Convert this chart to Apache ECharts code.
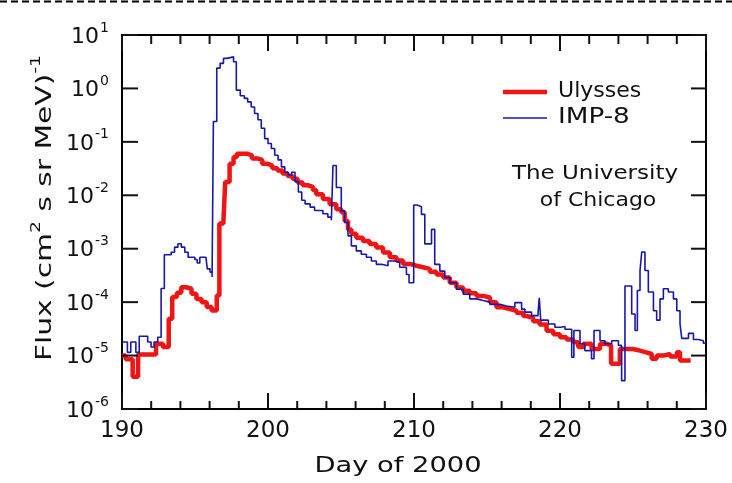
<!DOCTYPE html>
<html>
<head>
<meta charset="utf-8">
<script src="https://cdn.jsdelivr.net/npm/echarts@6/dist/echarts.min.js"></script>
<style>
html,body{margin:0;padding:0;background:#fff;}
#c{width:732px;height:483px;}
</style>
</head>
<body>
<div id="c"></div>
<script>
// ---- data ----
var xTicks = [190, 200, 210, 220, 230];
var xMinorTicks = [192, 194, 196, 198, 202, 204, 206, 208, 212, 214, 216, 218, 222, 224, 226, 228];
var yTickExp = [-6, -5, -4, -3, -2, -1, 0, 1];
var seriesNames = ['Ulysses', 'IMP-8'];

var ulyDays = [190.0,190.25,190.73,191.1,192.33,192.8,193.2,193.44,193.76,194.06,194.4,194.76,195.1,195.45,195.8,196.14,196.49,196.67,196.95,197.07,197.37,197.64,197.87,198.57,198.9,199.26,199.6,199.95,200.3,200.65,200.99,201.34,201.69,202.03,202.38,202.72,203.07,203.3,203.76,204.22,204.68,205.02,205.25,205.48,205.71,206.05,206.5,206.96,207.42,207.88,208.34,208.8,209.25,209.71,210.17,210.62,211.08,211.54,212.0,212.45,212.91,213.37,213.82,214.28,214.74,215.2,215.65,216.11,216.57,217.02,217.48,217.7,218.16,218.6,219.08,219.54,220.0,220.45,220.9,221.25,221.6,222.16,222.74,223.2,223.5,224.1,225.0,225.48,225.9,226.28,226.62,227.08,227.54,228.0,228.22,228.95];
var ulyFlux = [1.0e-5,8.5e-6,4.0e-6,1.05e-5,1.66e-5,1.44e-5,4.9e-5,1.25e-4,1.5e-4,1.9e-4,1.78e-4,1.44e-4,1.15e-4,1.0e-4,8.1e-5,7.0e-5,1.33e-4,2.95e-3,3.4e-3,1.78e-2,3.9e-2,5.2e-2,6.0e-2,5.6e-2,4.9e-2,4.6e-2,3.9e-2,3.6e-2,3.2e-2,2.9e-2,2.56e-2,2.3e-2,2.05e-2,1.73e-2,1.54e-2,1.44e-2,1.25e-2,1.05e-2,8.5e-3,6.8e-3,5.5e-3,4.8e-3,3.3e-3,2.3e-3,1.9e-3,1.6e-3,1.4e-3,1.23e-3,1.05e-3,8.5e-4,6.9e-4,6.0e-4,5.2e-4,4.8e-4,4.5e-4,4.2e-4,3.7e-4,3.3e-4,2.9e-4,2.3e-4,1.87e-4,1.63e-4,1.47e-4,1.31e-4,1.22e-4,1.0e-4,8.0e-5,7.4e-5,6.9e-5,6.3e-5,5.5e-5,5.1e-5,4.4e-5,3.8e-5,2.9e-5,2.5e-5,2.2e-5,2.0e-5,1.77e-5,1.44e-5,1.66e-5,1.33e-5,1.66e-5,1.55e-5,7.0e-6,1.33e-5,1.24e-5,1.15e-5,1.07e-5,8.7e-6,1.0e-5,1.07e-5,9.6e-6,1.15e-5,8.1e-6,8.1e-6];

var impDays = [190.02,190.37,190.6,190.95,191.18,191.76,191.99,192.2,192.45,192.68,192.9,193.37,193.6,193.83,194.06,194.3,194.53,194.99,195.15,195.33,195.75,195.84,196.03,196.17,196.26,196.49,196.72,196.95,197.18,197.64,197.83,198.1,198.38,198.61,198.85,199.08,199.31,199.54,199.77,200.0,200.23,200.46,200.69,200.92,201.15,201.39,201.62,201.85,202.08,202.31,202.54,202.89,203.19,203.76,204.1,204.34,204.45,204.68,205.02,205.25,205.48,205.71,206.05,206.39,206.74,207.08,207.42,207.77,208.22,208.68,209.02,209.48,209.66,209.98,210.21,210.51,210.74,211.2,211.42,211.77,212.11,212.45,212.91,213.37,213.82,214.28,214.74,215.2,215.88,216.34,216.91,217.37,217.6,218.05,218.5,218.58,218.68,219.2,219.65,220.04,220.34,220.8,220.95,221.37,221.7,222.16,222.33,222.74,223.08,223.54,224.0,224.22,224.45,224.91,225.14,225.3,225.48,225.6,225.82,226.05,226.4,226.62,226.85,227.08,227.42,227.77,228.0,228.22,228.34,228.8,229.14,229.48,229.82,230.0];
var impFlux = [1.8e-5,1.15e-5,1.8e-5,1.15e-5,2.3e-5,1.8e-5,1.45e-5,1.8e-5,2.2e-5,1.8e-4,7.7e-4,8.6e-4,1.07e-3,1.24e-3,1.07e-3,8.6e-4,6.9e-4,6.3e-4,5.4e-4,6.9e-4,7.5e-4,4.2e-4,3.65e-4,2.95e-4,0.24,2.4,2.95,3.65,3.9,3.16,0.93,0.73,0.65,0.56,0.45,0.34,0.26,0.18,0.115,0.093,0.075,0.056,0.046,0.034,0.027,0.024,0.027,0.018,0.0115,0.0081,0.0069,0.006,0.0052,0.0045,0.0039,0.0034,0.036,0.014,0.0051,0.0031,0.00174,0.00113,9.1e-4,7.9e-4,6.9e-4,5.9e-4,5.1e-4,4.8e-4,5.9e-4,5.5e-4,4.5e-4,3.3e-4,2.3e-4,6.6e-3,6.1e-3,4.4e-3,1.23e-3,2.3e-3,5.1e-4,3.8e-4,2.9e-4,2.3e-4,1.74e-4,1.41e-4,1.15e-4,1.07e-4,1.0e-4,9.1e-5,8.5e-5,8.0e-5,9.8e-5,7.4e-5,6.5e-5,5.6e-5,6.5e-5,1.2e-4,4.6e-5,3.9e-5,3.4e-5,3.5e-5,3.1e-5,9.3e-6,2.95e-5,1.66e-5,1.24e-5,8.7e-6,2.95e-5,1.9e-5,1.66e-5,1.9e-5,1.55e-5,3.4e-6,2.0e-4,6.0e-5,2.95e-5,1.65e-4,3.9e-4,8.7e-4,3.9e-4,1.55e-4,6.9e-5,4.6e-5,1.15e-4,1.78e-4,1.55e-4,1.15e-4,6.9e-5,3.9e-5,2.1e-5,2.6e-5,2.0e-5,1.9e-5,1.7e-5,1.7e-5];

function zip(a, b) { var r = []; for (var i = 0; i < a.length; i++) r.push([a[i], b[i]]); return r; }

var FONT = 'DejaVu Sans';
var RED = '#f01414', BLUE = '#1818a8', INK = '#111';
var chart = echarts.init(document.getElementById('c'));

var yMin = Math.pow(10, yTickExp[0]), yMax = Math.pow(10, yTickExp[yTickExp.length - 1]);
var xMin = xTicks[0], xMax = xTicks[xTicks.length - 1];

var yLabelFmt = function (v) {
  var e = Math.round(Math.log10(v));
  return '{b|10}{s|' + e + '}';
};

// tick marks on all four sides of the frame, positioned with api.coord (the chart's own scales)
function xTickSeries(values, lenBottom, lenTop) {
  return {
    type: 'custom', silent: true, clip: false, z: 5,
    data: values.map(function (d) { return [d, yMin]; }),
    renderItem: function (params, api) {
      var x = api.value(0);
      var b = api.coord([x, yMin]);
      var t = api.coord([x, yMax]);
      return {type: 'group', children: [
        {type: 'line', shape: {x1: b[0], y1: b[1], x2: b[0], y2: b[1] - lenBottom}, style: {stroke: INK, lineWidth: 2}},
        {type: 'line', shape: {x1: t[0], y1: t[1], x2: t[0], y2: t[1] + lenTop}, style: {stroke: INK, lineWidth: 2}}
      ]};
    }
  };
}
function yTickSeries(exps, lenLeft, lenRight) {
  return {
    type: 'custom', silent: true, clip: false, z: 5,
    data: exps.map(function (e) { return [xMin, Math.pow(10, e)]; }),
    renderItem: function (params, api) {
      var v = api.value(1);
      var l = api.coord([xMin, v]);
      var r = api.coord([xMax, v]);
      return {type: 'group', children: [
        {type: 'line', shape: {x1: l[0], y1: l[1], x2: l[0] + lenLeft, y2: l[1]}, style: {stroke: INK, lineWidth: 2}},
        {type: 'line', shape: {x1: r[0], y1: r[1], x2: r[0] - lenRight, y2: r[1]}, style: {stroke: INK, lineWidth: 2}}
      ]};
    }
  };
}

var option = {
  animation: false,
  grid: {left: 122, right: 26, top: 35, bottom: 74, show: true, borderColor: '#000', borderWidth: 2},
  xAxis: {
    type: 'value', min: xMin, max: xMax, interval: 10,
    axisLine: {show: true, lineStyle: {color: '#000', width: 2}},
    axisTick: {show: false},
    splitLine: {show: false},
    axisLabel: {fontFamily: FONT, fontSize: 23, color: INK, margin: 11}
  },
  yAxis: {
    type: 'log', logBase: 10, min: yMin, max: yMax,
    axisLine: {show: true, lineStyle: {color: '#000', width: 2}},
    axisTick: {show: false},
    splitLine: {show: false},
    axisLabel: {
      formatter: yLabelFmt, margin: 13,
      rich: {
        b: {fontFamily: FONT, fontSize: 22, color: INK, verticalAlign: 'bottom', lineHeight: 26},
        s: {fontFamily: FONT, fontSize: 14, color: INK, verticalAlign: 'bottom', padding: [0, 0, 13, 1], lineHeight: 14}
      }
    }
  },
  series: [{
    name: seriesNames[0], type: 'line', step: 'end', symbol: 'none',
    lineStyle: {color: RED, width: 4.5},
    itemStyle: {color: RED},
    data: zip(ulyDays, ulyFlux)
  }, {
    name: seriesNames[1], type: 'line', step: 'end', symbol: 'none',
    lineStyle: {color: BLUE, width: 1.6},
    itemStyle: {color: BLUE},
    data: zip(impDays, impFlux)
  },
    xTickSeries(xTicks, 16, 16),
    xTickSeries(xMinorTicks, 8, 9),
    yTickSeries(yTickExp, 16, 15)
  ],
  graphic: [
    {type: 'line', shape: {x1: 0, y1: 1.5, x2: 732, y2: 1.5}, style: {stroke: '#000', lineWidth: 2, lineDash: [7, 4]}},
    {type: 'text', x: 398, y: 467, scaleX: 1.3, style: {text: 'Day of 2000', fontFamily: FONT, fontSize: 21, fill: INK, align: 'center', verticalAlign: 'middle'}},
    {type: 'text', x: 42, y: 208, rotation: Math.PI / 2, scaleX: 1.35,
      style: {
        text: '{a|Flux (cm}{s|2}{a| s sr MeV)}{s|-1}',
        align: 'center', verticalAlign: 'middle',
        rich: {
          a: {fontFamily: FONT, fontSize: 22, fill: INK, verticalAlign: 'bottom', lineHeight: 28},
          s: {fontFamily: FONT, fontSize: 14, fill: INK, verticalAlign: 'bottom', padding: [0, 0, 13, 0], lineHeight: 14}
        }
      }},
    {type: 'text', x: 595, y: 174, scaleX: 1.15, style: {text: 'The University', fontFamily: FONT, fontSize: 20, fill: INK, align: 'center', verticalAlign: 'middle'}},
    {type: 'text', x: 598, y: 201, scaleX: 1.1, style: {text: 'of Chicago', fontFamily: FONT, fontSize: 20, fill: INK, align: 'center', verticalAlign: 'middle'}},
    {type: 'line', shape: {x1: 503, y1: 92, x2: 547, y2: 92}, style: {stroke: RED, lineWidth: 4.5}},
    {type: 'text', x: 558, y: 92, scaleX: 1.05, style: {text: seriesNames[0], fontFamily: FONT, fontSize: 21, fill: INK, align: 'left', verticalAlign: 'middle'}},
    {type: 'line', shape: {x1: 503, y1: 118, x2: 547, y2: 118}, style: {stroke: BLUE, lineWidth: 1.6}},
    {type: 'text', x: 558, y: 118, scaleX: 1.25, style: {text: seriesNames[1], fontFamily: FONT, fontSize: 21, fill: INK, align: 'left', verticalAlign: 'middle'}}
  ]
};
chart.setOption(option);
</script>
</body>
</html>
